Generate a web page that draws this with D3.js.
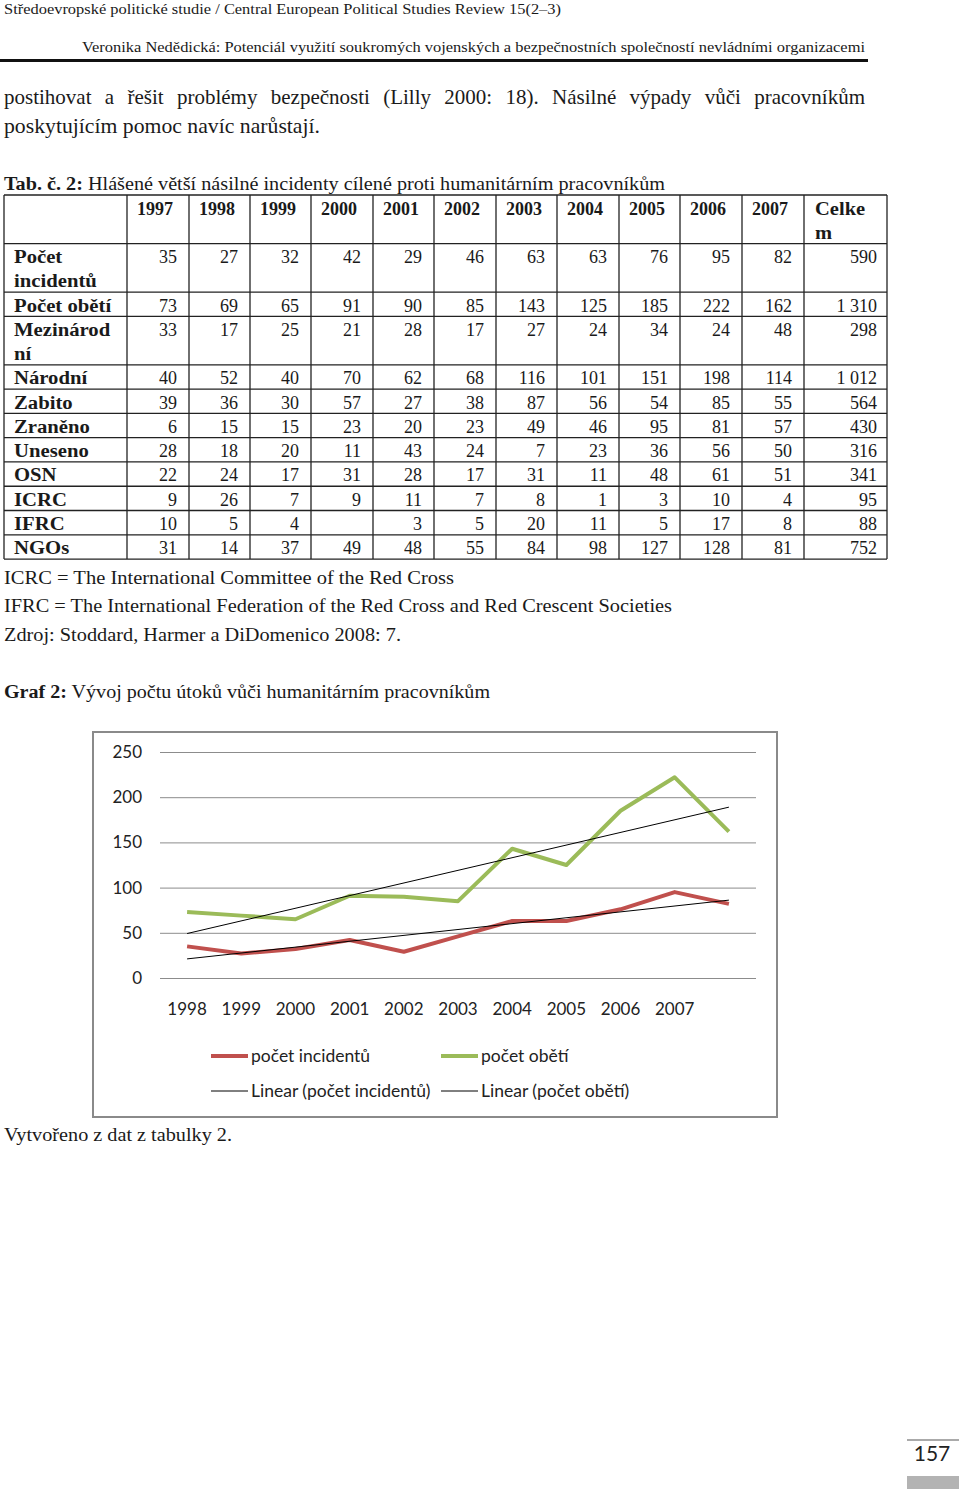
<!DOCTYPE html>
<html><head><meta charset="utf-8">
<script src="https://cdn.jsdelivr.net/npm/d3@7"></script>
<style>body{margin:0;background:#fff}svg{display:block}</style>
</head><body>
<script>
// ---------- DATA ----------
const years = ["1997","1998","1999","2000","2001","2002","2003","2004","2005","2006","2007"];
const totalHeader = ["Celke","m"];
const rowLabels = [["Počet","incidentů"],["Počet obětí"],["Mezinárod","ní"],["Národní"],["Zabito"],["Zraněno"],["Uneseno"],["OSN"],["ICRC"],["IFRC"],["NGOs"]];
const pocetIncidentu = [35,27,32,42,29,46,63,63,76,95,82];
const pocetObeti     = [73,69,65,91,90,85,143,125,185,222,162];
const mezinarodni    = [33,17,25,21,28,17,27,24,34,24,48];
const narodni        = [40,52,40,70,62,68,116,101,151,198,114];
const zabito         = [39,36,30,57,27,38,87,56,54,85,55];
const zraneno        = [6,15,15,23,20,23,49,46,95,81,57];
const uneseno        = [28,18,20,11,43,24,7,23,36,56,50];
const osn            = [22,24,17,31,28,17,31,11,48,61,51];
const icrc           = [9,26,7,9,11,7,8,1,3,10,4];
const ifrc           = [10,5,4,null,3,5,20,11,5,17,8];
const ngos           = [31,14,37,49,48,55,84,98,127,128,81];
const totals = ["590","1 310","298","1 012","564","430","316","341","95","88","752"];
const tableRows = [pocetIncidentu,pocetObeti,mezinarodni,narodni,zabito,zraneno,uneseno,osn,icrc,ifrc,ngos];

const xTickLabels = ["1998","1999","2000","2001","2002","2003","2004","2005","2006","2007"];
const yTicks = [0,50,100,150,200,250];
const seriesNames = ["počet incidentů","počet obětí"];
const trendNames = ["Linear (počet incidentů)","Linear (počet obětí)"];

// ---------- PAGE ----------
const SERIF = "'Liberation Serif','DejaVu Serif',serif";
const SANS = "Lato,'Open Sans',sans-serif";
const svg = d3.select("body").append("svg").attr("width",960).attr("height",1489);

function fitText(sel, w){ sel.attr("textLength", w).attr("lengthAdjust","spacingAndGlyphs"); return sel; }
function widen(sel, f){ const w = sel.node().getComputedTextLength(); return fitText(sel, w*f); }
function line(txt, x, y, size, w, opts={}){
  const t = svg.append("text").attr("x",x).attr("y",y).attr("font-family",SERIF).attr("font-size",size).attr("fill","#1a1a1a");
  if(opts.anchor) t.attr("text-anchor",opts.anchor);
  if(opts.parts){ opts.parts.forEach(p=>t.append("tspan").attr("font-weight",p.b?"bold":"normal").text(p.t)); }
  else t.text(txt);
  if(w) fitText(t,w);
  return t;
}
function justify(txt, x0, x1, y, size){
  const words = txt.split(" ");
  const g = svg.append("g");
  const nodes = words.map(w=>g.append("text").attr("y",y).attr("font-family",SERIF).attr("font-size",size).attr("fill","#1a1a1a").text(w));
  const widths = nodes.map(n=>n.node().getComputedTextLength());
  const gap = (x1-x0-d3.sum(widths))/(words.length-1);
  let cx = x0;
  nodes.forEach((n,i)=>{ n.attr("x",cx); cx += widths[i]+gap; });
}

// header
line("Středoevropské politické studie / Central European Political Studies Review 15(2–3)",4,14,15,557);
line("Veronika Nedědická: Potenciál využití soukromých vojenských a bezpečnostních společností nevládními organizacemi",82,52,15,783);
svg.append("rect").attr("x",0).attr("y",59).attr("width",868).attr("height",3).attr("fill","#111");

// paragraph
justify("postihovat a řešit problémy bezpečnosti (Lilly 2000: 18). Násilné výpady vůči pracovníkům",4,865,104,21);
line("poskytujícím pomoc navíc narůstají.",4,133,21,316);

// table title
line(null,4,190,18,661,{parts:[{t:"Tab. č. 2:",b:true},{t:" Hlášené větší násilné incidenty cílené proti humanitárním pracovníkům"}]});

// ---------- TABLE ----------
const colEdges = [4,127,189,250,311,373,434,496,557,619,680,742,804,887];
const tableTop = 195, lineH = 24.27;
const rowLines = [2].concat(rowLabels.map(r=>r.length));
const rowEdges = [tableTop];
rowLines.forEach(n=>rowEdges.push(rowEdges[rowEdges.length-1]+n*lineH));
const tg = svg.append("g").attr("font-family",SERIF).attr("font-size",18).attr("fill","#1a1a1a");
// grid
rowEdges.forEach(y=>tg.append("line").attr("x1",colEdges[0]).attr("x2",colEdges[colEdges.length-1]).attr("y1",y).attr("y2",y).attr("stroke","#222").attr("stroke-width",1.3));
colEdges.forEach(x=>tg.append("line").attr("x1",x).attr("x2",x).attr("y1",rowEdges[0]).attr("y2",rowEdges[rowEdges.length-1]).attr("stroke","#222").attr("stroke-width",1.3));
// header
years.forEach((yr,i)=>tg.append("text").attr("x",colEdges[i+1]+10).attr("y",tableTop+20).attr("font-weight","bold").text(yr));
totalHeader.forEach((t,k)=>widen(tg.append("text").attr("x",colEdges[12]+11).attr("y",tableTop+20+k*lineH).attr("font-weight","bold").text(t),1.14));
// body
tableRows.forEach((vals,r)=>{
  const top = rowEdges[r+1];
  rowLabels[r].forEach((t,k)=>widen(tg.append("text").attr("x",colEdges[0]+10).attr("y",top+19.5+k*lineH).attr("font-weight","bold").text(t),1.15));
  vals.forEach((v,i)=>{ if(v!==null) tg.append("text").attr("x",colEdges[i+2]-12).attr("y",top+19.5).attr("text-anchor","end").text(v); });
  tg.append("text").attr("x",colEdges[13]-10).attr("y",top+19.5).attr("text-anchor","end").text(totals[r]);
});

// notes
line("ICRC = The International Committee of the Red Cross",4,584,18,450);
line("IFRC = The International Federation of the Red Cross and Red Crescent Societies",4,612,18,668);
line("Zdroj: Stoddard, Harmer a DiDomenico 2008: 7.",4,641,18,397);
line(null,4,698,18,486,{parts:[{t:"Graf 2:",b:true},{t:" Vývoj počtu útoků vůči humanitárním pracovníkům"}]});
line("Vytvořeno z dat z tabulky 2.",4,1141,18,228);

// ---------- CHART ----------
svg.append("rect").attr("x",93).attr("y",732).attr("width",684).attr("height",385).attr("fill","#fff").attr("stroke","#8a8a8a").attr("stroke-width",2);
const x = d3.scaleBand().domain(d3.range(years.length)).range([160,756]);
const cx = i => x(i)+x.bandwidth()/2;
const y = d3.scaleLinear().domain([0,250]).range([978,752]);

const yAxis = svg.append("g").attr("transform","translate(160,0)")
  .call(d3.axisLeft(y).tickValues(yTicks).tickSize(-(756-160)).tickPadding(18));
yAxis.select(".domain").remove();
yAxis.selectAll("line").attr("stroke","#8c8c8c").attr("stroke-width",1);
yAxis.selectAll("text").attr("font-family",SANS).attr("font-size",17).attr("fill","#222");

const xAxis = svg.append("g").attr("transform","translate(0,978)")
  .call(d3.axisBottom(x).tickSize(0).tickPadding(25).tickFormat(i=>xTickLabels[i]||""));
xAxis.select(".domain").remove();
xAxis.selectAll("text").attr("font-family",SANS).attr("font-size",17).attr("fill","#222");

function trend(vals){
  const xs = vals.map((v,i)=>i), mx=d3.mean(xs), my=d3.mean(vals);
  const b = d3.sum(vals,(v,i)=>(i-mx)*(v-my))/d3.sum(xs,i=>(i-mx)*(i-mx));
  const a = my-b*mx;
  return [[0,a],[vals.length-1,a+b*(vals.length-1)]];
}
const lineGen = d3.line().x((d,i)=>cx(i)).y(d=>y(d));
const colors = ["#C0504D","#9BBB59"];
[pocetIncidentu,pocetObeti].forEach((vals,k)=>{
  svg.append("path").datum(vals).attr("d",lineGen).attr("fill","none").attr("stroke",colors[k]).attr("stroke-width",4).attr("stroke-linejoin","round");
});
[pocetIncidentu,pocetObeti].forEach(vals=>{
  const t = trend(vals);
  svg.append("line").attr("x1",cx(t[0][0])).attr("y1",y(t[0][1])).attr("x2",cx(t[1][0])).attr("y2",y(t[1][1])).attr("stroke","#000").attr("stroke-width",1);
});

// legend
const legendItems = [
  {name:seriesNames[0],color:colors[0],w:4,x:211,y:1056},
  {name:seriesNames[1],color:colors[1],w:4,x:441,y:1056},
  {name:trendNames[0],color:"#000",w:1,x:211,y:1091},
  {name:trendNames[1],color:"#000",w:1,x:441,y:1091}
];
legendItems.forEach(d=>{
  svg.append("line").attr("x1",d.x).attr("x2",d.x+37).attr("y1",d.y).attr("y2",d.y).attr("stroke",d.color).attr("stroke-width",d.w);
  svg.append("text").attr("x",d.x+40).attr("y",d.y).attr("dy","0.35em").attr("font-family",SANS).attr("font-size",17.5).attr("fill","#222").text(d.name);
});

// page number
svg.append("rect").attr("x",907).attr("y",1439).attr("width",52).attr("height",2).attr("fill","#aaa");
svg.append("text").attr("x",932).attr("y",1461).attr("text-anchor","middle").attr("font-family",SANS).attr("font-size",21).attr("fill","#222").text("157");
svg.append("rect").attr("x",907).attr("y",1476).attr("width",52).attr("height",13).attr("fill","#b3b3b3");
</script>
</body></html>
